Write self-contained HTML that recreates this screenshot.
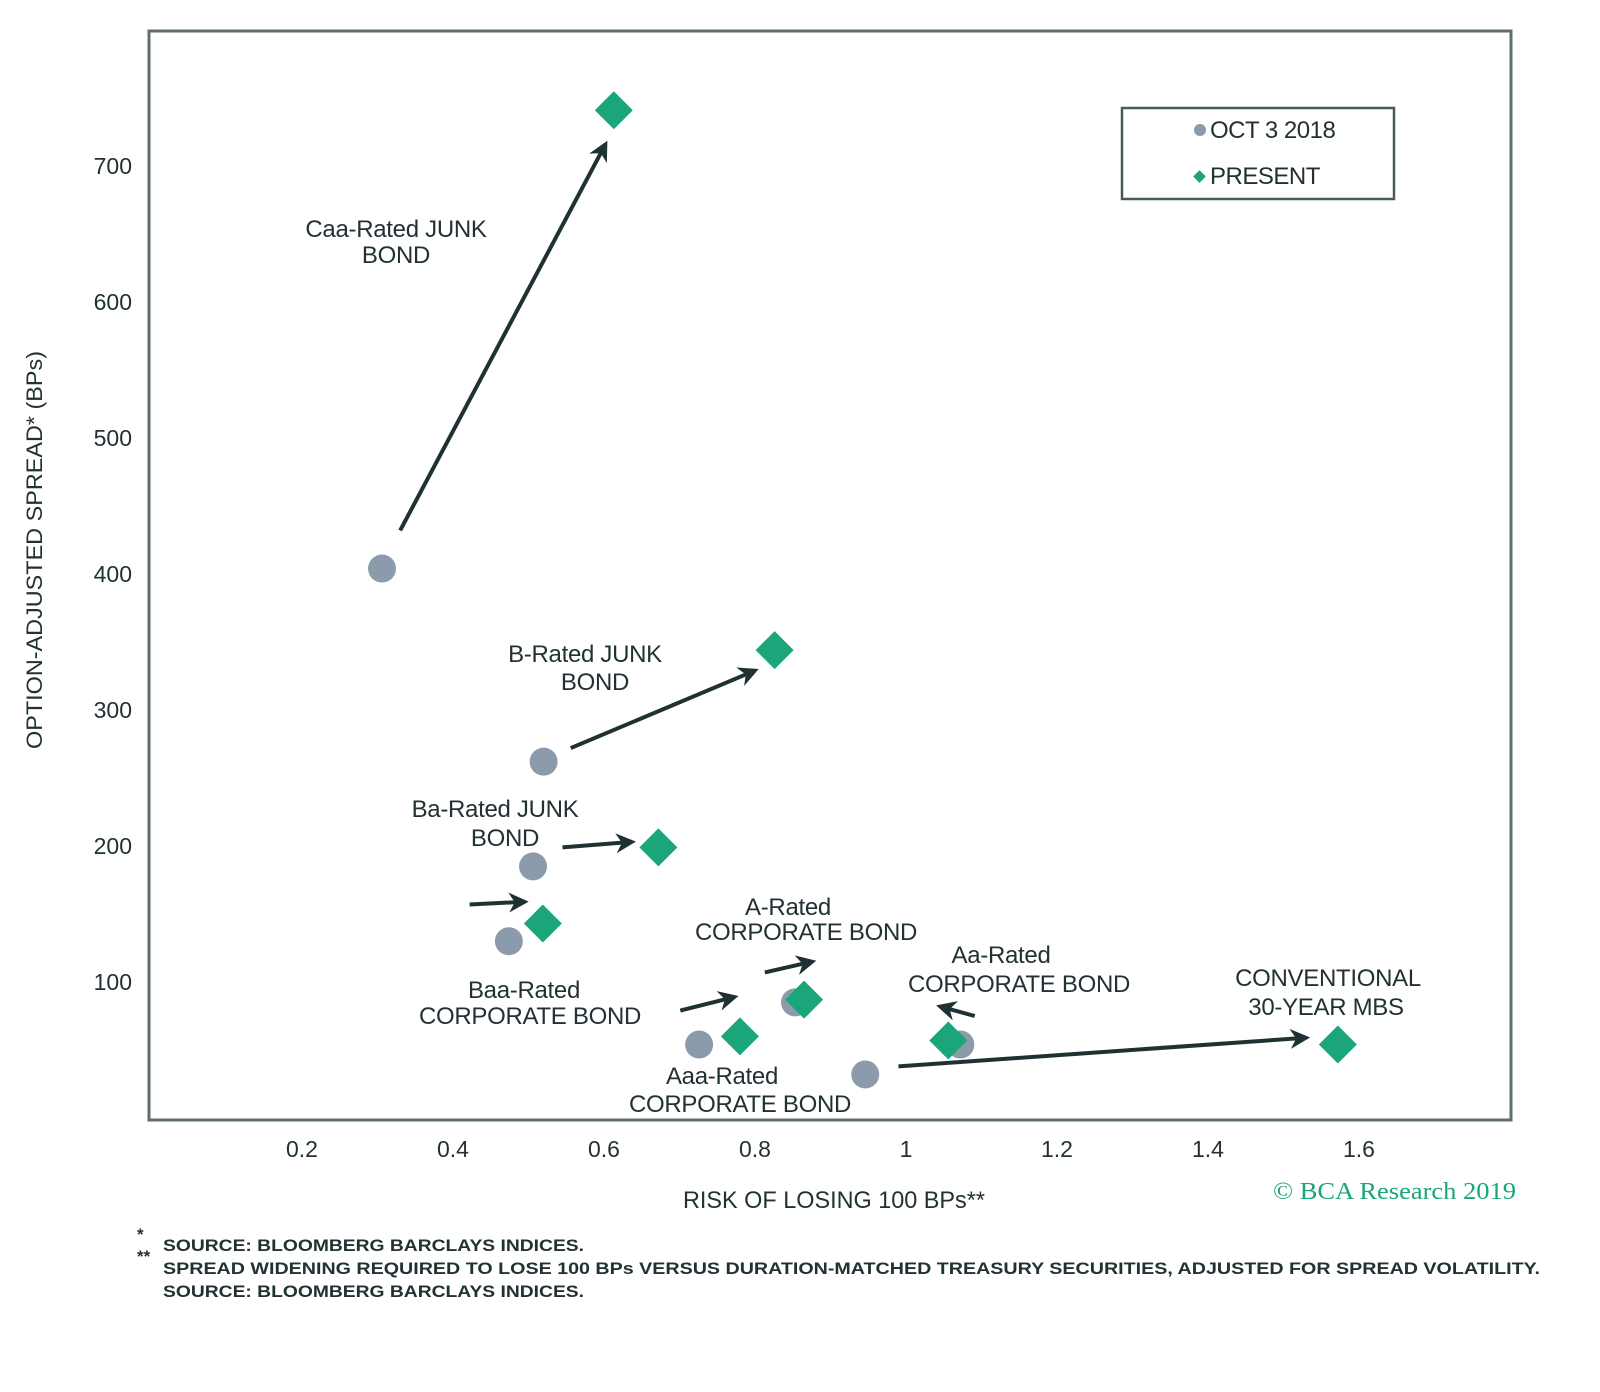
<!DOCTYPE html>
<html><head><meta charset="utf-8">
<style>
body{margin:0;background:#fff;}
svg{display:block;font-family:"Liberation Sans",sans-serif;}
</style></head>
<body>
<svg id="chart" width="1600" height="1392" viewBox="0 0 1600 1392">
<defs>
<marker id="ah" viewBox="0 0 10 10" refX="8" refY="5" markerWidth="5" markerHeight="5" orient="auto-start-reverse">
<path d="M0,0 L10,5 L0,10 L3,5 z" fill="#1f3133"/>
</marker>
</defs>
<rect x="149" y="31" width="1362" height="1089" fill="none" stroke="#5f6e70" stroke-width="3"/>
<g id="ticks"></g>
<g id="arrows"></g>
<g id="marks"></g>
<g id="labels" font-size="24" fill="#223234" text-anchor="middle" letter-spacing="-0.3">
<text x="396" y="237">Caa-Rated JUNK</text>
<text x="396" y="263">BOND</text>
<text x="585" y="662">B-Rated JUNK</text>
<text x="595" y="690">BOND</text>
<text x="495" y="817">Ba-Rated JUNK</text>
<text x="505" y="846">BOND</text>
<text x="524" y="998">Baa-Rated</text>
<text x="530" y="1024">CORPORATE BOND</text>
<text x="788" y="915">A-Rated</text>
<text x="806" y="940">CORPORATE BOND</text>
<text x="1001" y="963">Aa-Rated</text>
<text x="1019" y="992">CORPORATE BOND</text>
<text x="1328" y="986">CONVENTIONAL</text>
<text x="1326" y="1015">30-YEAR MBS</text>
<text x="722" y="1084">Aaa-Rated</text>
<text x="740" y="1112">CORPORATE BOND</text>
</g>
<g>
<rect x="1122" y="108" width="272" height="91" fill="#fff" stroke="#4a5a5c" stroke-width="2.5"/>
<circle cx="1200" cy="130" r="6" fill="#8b9bab"/>
<text x="1210" y="138" font-size="24" fill="#223234" letter-spacing="-0.5">OCT 3 2018</text>
<rect x="1195" y="172" width="9" height="9" fill="#1aa57a" transform="rotate(45 1199.5 176.5)"/>
<text x="1210" y="184" font-size="24" fill="#223234" letter-spacing="-0.5">PRESENT</text>
</g>
<text transform="translate(42 550) rotate(-90)" text-anchor="middle" font-size="22" fill="#223234" textLength="398" lengthAdjust="spacingAndGlyphs">OPTION-ADJUSTED SPREAD* (BPs)</text>
<text x="683" y="1208" font-size="24" fill="#223234" textLength="302" lengthAdjust="spacingAndGlyphs">RISK OF LOSING 100 BPs**</text>
<text x="1273" y="1199" font-size="24" fill="#1aa57a" font-family="Liberation Serif,serif" textLength="243" lengthAdjust="spacingAndGlyphs">© BCA Research 2019</text>
<g font-size="17" fill="#223234" font-weight="bold">
<text x="137" y="1240">*</text>
<text x="137" y="1262">**</text>
<text x="163" y="1251" textLength="421" lengthAdjust="spacingAndGlyphs">SOURCE: BLOOMBERG BARCLAYS INDICES.</text>
<text x="163" y="1274" textLength="1377" lengthAdjust="spacingAndGlyphs">SPREAD WIDENING REQUIRED TO LOSE 100 BPs VERSUS DURATION-MATCHED TREASURY SECURITIES, ADJUSTED FOR SPREAD VOLATILITY.</text>
<text x="163" y="1297" textLength="421" lengthAdjust="spacingAndGlyphs">SOURCE: BLOOMBERG BARCLAYS INDICES.</text>
</g>
</svg>
<script>
const categories = ["Caa","B","Ba","Baa","A","Aaa","Aa","MBS"];
const oldRisk = [0.306,0.52,0.506,0.474,0.853,0.726,1.072,0.946];
const oldSpread = [404,262,185,130,85,54,54,32];
const newRisk = [0.613,0.826,0.672,0.519,0.865,0.78,1.056,1.572];
const newSpread = [741,344,199,143,87,60,57,54];
const xTicks = [0.2,0.4,0.6,0.8,1,1.2,1.4,1.6];
const yTicks = [100,200,300,400,500,600,700];
// annotation arrows [x1,y1,x2,y2] in data units
const arrowX1 = [0.33,0.556,0.545,0.422,0.813,0.701,1.091,0.99];
const arrowY1 = [432,272,199,157,107,79,75,38];
const arrowX2 = [0.602,0.8,0.637,0.495,0.876,0.773,1.045,1.53];
const arrowY2 = [716,329,203,159,115,89,82,59];

const x = v => 151 + v * 755;
const y = v => 1118 - v * 1.36;
const NS = "http://www.w3.org/2000/svg";
const mk = (t, a, p) => { const e = document.createElementNS(NS, t); for (const k in a) e.setAttribute(k, a[k]); p.appendChild(e); return e; };

const tg = document.getElementById("ticks");
xTicks.forEach(v => {
  const t = mk("text", {x: x(v), y: 1157, "text-anchor": "middle", "font-size": 23, fill: "#223234"}, tg);
  t.textContent = v;
  
  
});
yTicks.forEach(v => {
  const t = mk("text", {x: 132, y: y(v) + 8, "text-anchor": "end", "font-size": 23, fill: "#223234"}, tg);
  t.textContent = v;
  
  
});

const ag = document.getElementById("arrows");
arrowX1.forEach((v, i) => {
  const l = mk("line", {x1: x(v), y1: y(arrowY1[i]), x2: x(arrowX2[i]), y2: y(arrowY2[i]), stroke: "#1f3133", "stroke-width": 4, "marker-end": "url(#ah)"}, ag);
  
  
});

const mg = document.getElementById("marks");
categories.forEach((c, i) => {
  const ci = mk("circle", {cx: x(oldRisk[i]), cy: y(oldSpread[i]), r: 14, fill: "#8b9bab"}, mg);
  
  
});
categories.forEach((c, i) => {
  const cx = x(newRisk[i]), cy = y(newSpread[i]), s = 19;
  const d = mk("polygon", {points: `${cx},${cy-s} ${cx+s},${cy} ${cx},${cy+s} ${cx-s},${cy}`, fill: "#1aa57a"}, mg);
  
  
});
</script>
</body></html>
